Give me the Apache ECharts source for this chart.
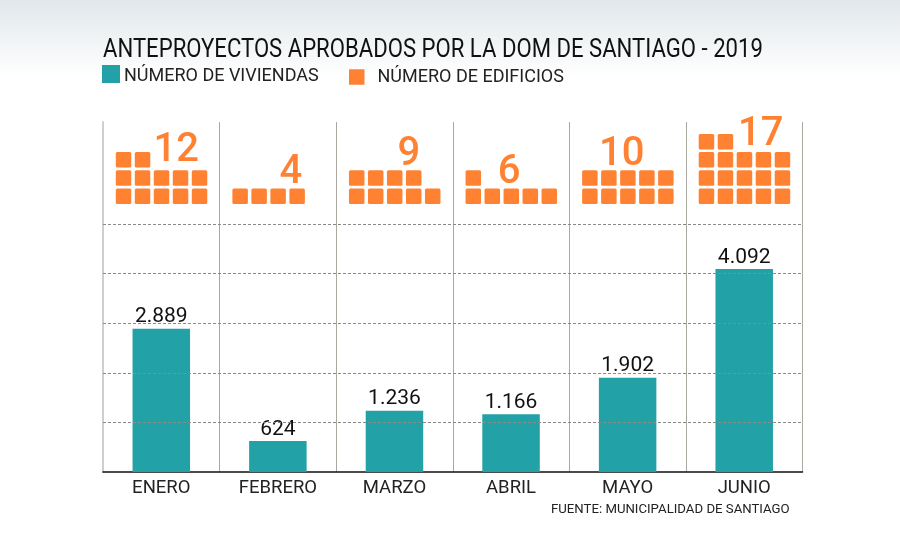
<!DOCTYPE html>
<html>
<head>
<meta charset="utf-8">
<style>
  html, body { margin: 0; padding: 0; background: #fff; }
  #main { width: 900px; height: 545px; }
</style>
<script src="https://cdn.jsdelivr.net/npm/echarts@6/dist/echarts.min.js"></script>
</head>
<body>
<div id="main"></div>
<script>
var months = ['ENERO', 'FEBRERO', 'MARZO', 'ABRIL', 'MAYO', 'JUNIO'];
var viviendas = [2889, 624, 1236, 1166, 1902, 4092];
var edificios = [12, 4, 9, 6, 10, 17];
var gridValues = [1000, 2000, 3000, 4000, 5000];

// where the big orange number sits, px from the column centre / from the top of the chart
var numberDx = [15, 13, 14.5, -2, -6, 16.5];
var numberY = [151, 172.5, 155, 172.5, 155, 135];

var FONT = 'Roboto';
var TEAL = '#22a1a7';
var ORANGE = '#ff8233';

var myChart = echarts.init(document.getElementById('main'));

function renderEdificios(params, api) {
    var i = api.value(0);
    var count = api.value(1);
    var base = api.coord([i, 5403]);
    var size = 15.5, stepX = 19, stepY = 18.2, radius = 1.5;
    var children = [];
    for (var n = 0; n < count; n++) {
        var col = n % 5;
        var row = Math.floor(n / 5);
        children.push({
            type: 'rect',
            shape: {
                x: base[0] - 45.5 + col * stepX,
                y: base[1] - size - row * stepY,
                width: size,
                height: size,
                r: radius
            },
            style: { fill: ORANGE }
        });
    }
    children.push({
        type: 'text',
        style: {
            x: base[0] + numberDx[i],
            y: numberY[i],
            text: String(count),
            fill: ORANGE,
            font: '500 40px ' + FONT,
            align: 'center',
            verticalAlign: 'middle'
        }
    });
    return { type: 'group', children: children };
}

var option = {
    animation: false,
    backgroundColor: new echarts.graphic.LinearGradient(0, 0, 0, 1, [
        { offset: 0, color: '#e1e7ea' },
        { offset: 0.14, color: '#ffffff' },
        { offset: 1, color: '#ffffff' }
    ]),
    // title is a narrow face in the original, so squeeze it horizontally
    graphic: [{
        type: 'text',
        x: 103,
        y: 38,
        scaleX: 0.885,
        style: {
            text: 'ANTEPROYECTOS APROBADOS POR LA DOM DE SANTIAGO - 2019',
            font: '25px ' + FONT,
            fill: '#111'
        }
    }],
    title: [{
        text: 'FUENTE: MUNICIPALIDAD DE SANTIAGO',
        left: 551,
        top: 503,
        padding: 0,
        textStyle: { fontFamily: FONT, fontSize: 13.2, fontWeight: 'normal', color: '#222' }
    }],
    legend: [{
        // speck under the square pushes the text 2px below the icon's centre
        data: [{ name: 'NÚMERO DE VIVIENDAS', icon: 'path://M0,0H18V18H0Z M0,21.9H0.01V22H0Z' }],
        left: 102,
        top: 65,
        padding: 0,
        itemWidth: 18,
        itemHeight: 22,
        itemGap: 0,
        selectedMode: false,
        textStyle: { fontFamily: FONT, fontSize: 18, color: '#222', padding: [0, 0, 0, -1] }
    }, {
        data: [{ name: 'NÚMERO DE EDIFICIOS', icon: 'rect' }],
        left: 349,
        top: 68,
        padding: 0,
        itemWidth: 15.5,
        itemHeight: 15.5,
        selectedMode: false,
        textStyle: { fontFamily: FONT, fontSize: 18, color: '#222', padding: [0, 0, 0, 8] }
    }],
    grid: { left: 103, top: 122, width: 699.5, height: 350 },
    xAxis: {
        type: 'category',
        data: months,
        axisTick: { show: false },
        axisLine: { lineStyle: { color: '#111', width: 1.5 } },
        axisLabel: { fontFamily: FONT, fontSize: 18.5, color: '#222', margin: 7 },
        splitLine: { show: true, lineStyle: { color: '#a9a9a1', width: 1 } }
    },
    yAxis: {
        type: 'value',
        min: 0,
        max: 7056,
        interval: 1000,
        axisLabel: { show: false },
        axisTick: { show: false },
        axisLine: { show: true, lineStyle: { color: '#cfcfcf', width: 2 } },
        splitLine: { show: false }
    },
    series: [{
        name: 'lineas',
        type: 'line',
        data: [],
        z: 1,
        silent: true,
        markLine: {
            silent: true,
            symbol: 'none',
            label: { show: false },
            lineStyle: { type: [3, 2], color: '#8a8a85', width: 1 },
            data: gridValues.map(function (v) { return { yAxis: v }; })
        }
    }, {
        name: 'NÚMERO DE VIVIENDAS',
        type: 'bar',
        data: viviendas,
        barWidth: 57.5,
        z: 3,
        itemStyle: { color: TEAL },
        label: {
            show: true,
            position: 'top',
            distance: 1,
            fontFamily: FONT,
            fontSize: 21,
            color: '#111',
            formatter: function (p) {
                return String(p.value).replace(/\B(?=(\d{3})+$)/, '.');
            }
        }
    }, {
        name: 'NÚMERO DE EDIFICIOS',
        type: 'custom',
        data: edificios.map(function (v, i) { return [i, v]; }),
        encode: { x: 0, y: 1 },
        clip: false,
        z: 4,
        itemStyle: { color: ORANGE },
        renderItem: renderEdificios
    }]
};
myChart.setOption(option);
</script>
</body>
</html>
